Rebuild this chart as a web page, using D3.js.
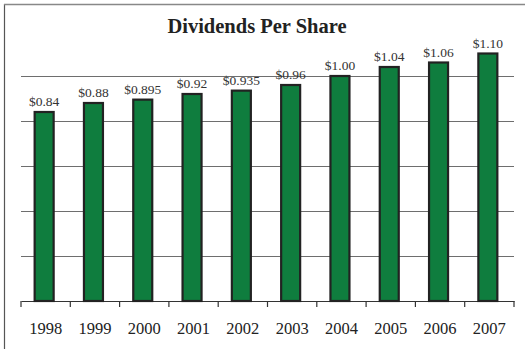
<!DOCTYPE html>
<html><head><meta charset="utf-8">
<script src="https://cdn.jsdelivr.net/npm/d3@7"></script>
<style>body{margin:0;background:#fff}svg{display:block}</style>
</head><body><svg id="c" width="525" height="349"></svg>
<script>
const years = ["1998","1999","2000","2001","2002","2003","2004","2005","2006","2007"];
const dividends = [0.84,0.88,0.895,0.92,0.935,0.96,1.00,1.04,1.06,1.10];
const valueLabels = ["$0.84","$0.88","$0.895","$0.92","$0.935","$0.96","$1.00","$1.04","$1.06","$1.10"];
const gridValues = [0.2,0.4,0.6,0.8,1.0];
const title = "Dividends Per Share";

const svg = d3.select("#c");
const serif = "'Liberation Serif','Times New Roman',serif";
const left = 21, right = 514, baseY = 301;
const x = d3.scaleBand().domain(years).range([left,right]).paddingInner(0).paddingOuter(0);
const y = d3.scaleLinear().domain([0,1]).range([baseY,76]);

// frame
svg.append("line").attr("x1",4.5).attr("x2",4.5).attr("y1",4).attr("y2",349).attr("stroke","#555").attr("stroke-width",1.2);
svg.append("line").attr("x1",4).attr("x2",525).attr("y1",4.5).attr("y2",4.5).attr("stroke","#888").attr("stroke-width",1.5);

// title
svg.append("text").attr("x",257).attr("y",33).attr("text-anchor","middle")
  .attr("font-family",serif).attr("font-weight","bold").attr("font-size",20.5).attr("fill","#222").text(title);

// gridlines
svg.append("g").selectAll("line").data(gridValues).join("line")
  .attr("x1",left).attr("x2",right)
  .attr("y1",d=>Math.round(y(d))+0.5).attr("y2",d=>Math.round(y(d))+0.5)
  .attr("stroke","#6e6e6e").attr("stroke-width",1.2);

// x axis
const ax = svg.append("g").attr("transform",`translate(0,${baseY})`)
  .call(d3.axisBottom(x).tickSize(0).tickFormat(""));
ax.select(".domain").attr("stroke","#333").attr("stroke-width",1.2);
const bounds = years.map(d=>x(d)).concat([right]);
svg.append("g").selectAll("line").data(bounds).join("line")
  .attr("x1",d=>d).attr("x2",d=>d).attr("y1",baseY).attr("y2",baseY+6)
  .attr("stroke","#333").attr("stroke-width",1.2);
svg.append("g").selectAll("text").data(years).join("text")
  .attr("x",d=>x(d)+x.bandwidth()/2).attr("y",334).attr("text-anchor","middle")
  .attr("font-family",serif).attr("font-size",16.5).attr("fill","#222").text(d=>d);

// bars
const bw = 19;
svg.append("g").selectAll("rect").data(dividends).join("rect")
  .attr("x",(d,i)=>x(years[i])+x.bandwidth()/2-bw/2-1.5)
  .attr("y",d=>y(d))
  .attr("width",bw).attr("height",d=>baseY-y(d))
  .attr("fill","#0f7d3e").attr("stroke","#222").attr("stroke-width",2.2);

// value labels
svg.append("g").selectAll("text").data(dividends).join("text")
  .attr("x",(d,i)=>x(years[i])+x.bandwidth()/2-1.5).attr("y",d=>y(d)-6)
  .attr("text-anchor","middle").attr("font-family",serif).attr("font-size",13.5).attr("fill","#333")
  .text((d,i)=>valueLabels[i]);
</script></body></html>
